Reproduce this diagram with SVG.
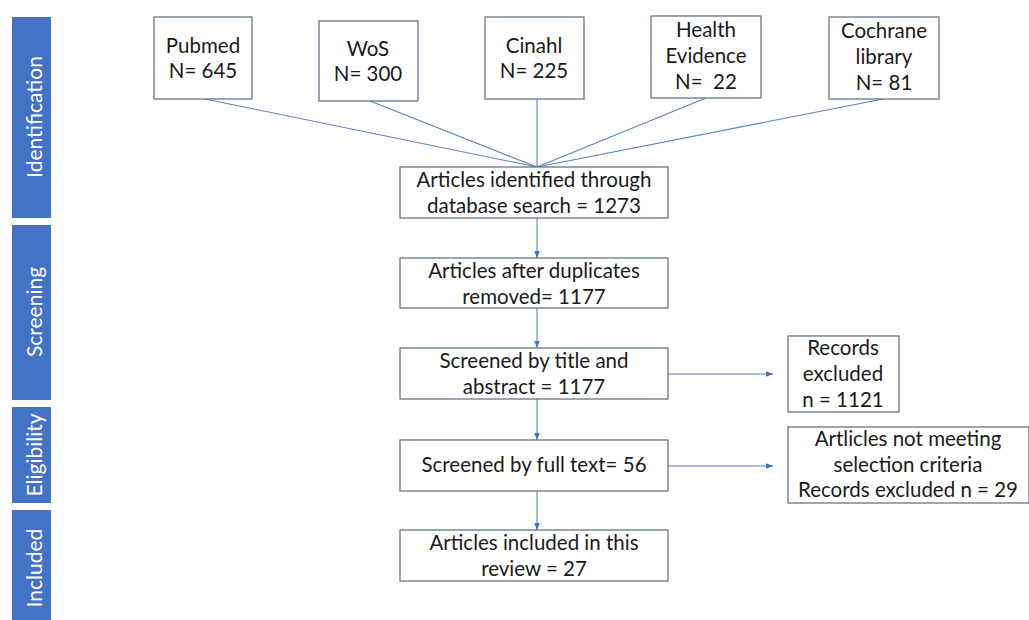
<svg xmlns="http://www.w3.org/2000/svg" width="1029" height="620" viewBox="0 0 1029 620">
<style>
.bar{fill:#4472C4}
.bt{fill:#ffffff;font-family:Lato,"Liberation Sans",sans-serif;font-size:21px;text-anchor:middle;dominant-baseline:central}
.box{fill:#ffffff;stroke:#5a6a7e;stroke-width:1.2}
.t{fill:#1a1a1a;font-family:Lato,"Liberation Sans",sans-serif;font-size:20.5px;text-anchor:middle}
.c{stroke:#5b82c0;stroke-width:1.1;fill:none}
.a{stroke:#5b82c0;stroke-width:1.1;fill:none;marker-end:url(#ah)}
</style>
<defs>
<marker id="ah" viewBox="0 0 10 10" refX="10" refY="5" markerWidth="7" markerHeight="7" markerUnits="userSpaceOnUse" orient="auto">
<path d="M0,1 L10,5 L0,9 z" fill="#4472C4"/>
</marker>
</defs>
<rect width="1029" height="620" fill="#ffffff"/>
<g id="stage-identification"><rect class="bar" x="12" y="17" width="39" height="201"/><text class="bt" transform="translate(33,117) rotate(-90)">Identification</text></g>
<g id="stage-screening"><rect class="bar" x="12" y="225" width="39" height="175"/><text class="bt" transform="translate(33,312) rotate(-90)">Screening</text></g>
<g id="stage-eligibility"><rect class="bar" x="12" y="407" width="39" height="96"/><text class="bt" transform="translate(33,455) rotate(-90)">Eligibility</text></g>
<g id="stage-included"><rect class="bar" x="12" y="510" width="39" height="115"/><text class="bt" transform="translate(33,568) rotate(-90)">Included</text></g>
<g id="connectors">
<line class="c" x1="205" y1="99" x2="537" y2="167"/>
<line class="c" x1="370" y1="101" x2="537" y2="167"/>
<line class="c" x1="537" y1="99" x2="537" y2="167"/>
<line class="c" x1="706" y1="98" x2="537" y2="167"/>
<line class="c" x1="883" y1="99" x2="537" y2="167"/>
<line class="a" x1="537" y1="218" x2="537" y2="258"/>
<line class="a" x1="537" y1="308" x2="537" y2="348"/>
<line class="a" x1="537" y1="399" x2="537" y2="440"/>
<line class="a" x1="537" y1="491" x2="537" y2="530"/>
<line class="a" x1="668" y1="374" x2="773" y2="374"/>
<line class="a" x1="668" y1="466" x2="773" y2="466"/>
</g>
<g id="pubmed"><rect class="box" x="154" y="17" width="98" height="82"/><text class="t" x="203" y="53">Pubmed</text><text class="t" x="203" y="78">N= 645</text></g>
<g id="wos"><rect class="box" x="319" y="21" width="99" height="80"/><text class="t" x="368" y="56">WoS</text><text class="t" x="368" y="81">N= 300</text></g>
<g id="cinahl"><rect class="box" x="485" y="17" width="99" height="82"/><text class="t" x="534" y="53">Cinahl</text><text class="t" x="534" y="78">N= 225</text></g>
<g id="health-evidence"><rect class="box" x="651" y="16" width="110" height="82"/><text class="t" x="706" y="37">Health</text><text class="t" x="706" y="63">Evidence</text><text class="t" x="706" y="89" xml:space="preserve">N=  22</text></g>
<g id="cochrane"><rect class="box" x="829" y="17" width="110" height="82"/><text class="t" x="884" y="38">Cochrane</text><text class="t" x="884" y="64">library</text><text class="t" x="884" y="90">N= 81</text></g>
<g id="identified"><rect class="box" x="400" y="167" width="268" height="51"/><text class="t" x="534" y="187">Articles identified through</text><text class="t" x="534" y="213">database search = 1273</text></g>
<g id="duplicates"><rect class="box" x="400" y="258" width="268" height="50"/><text class="t" x="534" y="278">Articles after duplicates</text><text class="t" x="534" y="304">removed= 1177</text></g>
<g id="title-abstract"><rect class="box" x="400" y="348" width="268" height="51"/><text class="t" x="534" y="368">Screened by title and</text><text class="t" x="534" y="394">abstract = 1177</text></g>
<g id="full-text"><rect class="box" x="400" y="440" width="268" height="51"/><text class="t" x="534" y="472">Screened by full text= 56</text></g>
<g id="included"><rect class="box" x="400" y="530" width="268" height="51"/><text class="t" x="534" y="550">Articles included in this</text><text class="t" x="534" y="576">review = 27</text></g>
<g id="records-excluded"><rect class="box" x="788" y="336" width="111" height="76"/><text class="t" x="843" y="355">Records</text><text class="t" x="843" y="381">excluded</text><text class="t" x="843" y="407">n = 1121</text></g>
<g id="not-meeting"><rect class="box" x="788" y="427" width="241" height="76"/><text class="t" x="908" y="446">Artlicles not meeting</text><text class="t" x="908" y="472">selection criteria</text><text class="t" x="908" y="497">Records excluded n = 29</text></g>
</svg>
